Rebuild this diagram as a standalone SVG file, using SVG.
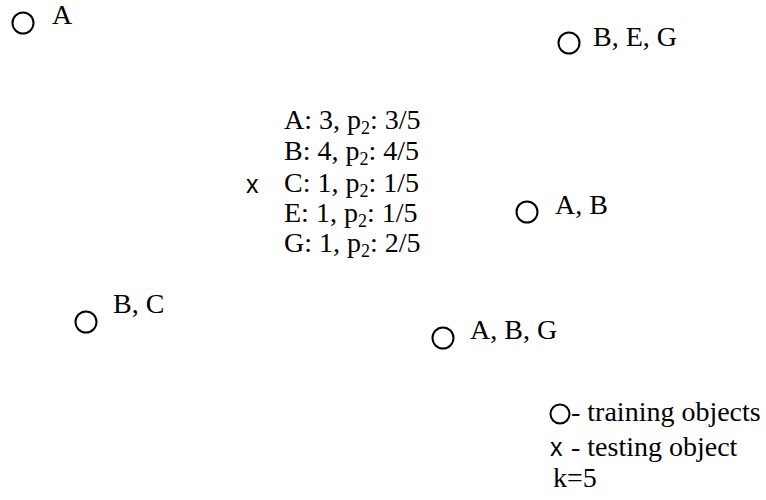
<svg xmlns="http://www.w3.org/2000/svg" width="766" height="500" viewBox="0 0 766 500">
<style>
.c{fill:none;stroke:#000;stroke-width:2}
.t{font-family:"Liberation Serif",serif;font-size:28px;fill:#000}
.x{font-family:"Liberation Sans",sans-serif;font-size:25px;fill:#000}
.s{font-size:18px}
</style>
<rect width="766" height="500" fill="#fff"/>
<g id="nA"><circle class="c" cx="23" cy="23" r="10.5"/><text class="t" x="52" y="24">A</text></g>
<g id="nBEG"><circle class="c" cx="569" cy="43" r="10.5"/><text class="t" x="593" y="46">B, E, G</text></g>
<g id="nAB"><circle class="c" cx="527" cy="212" r="10.5"/><text class="t" x="555" y="214">A, B</text></g>
<g id="nBC"><circle class="c" cx="86" cy="322" r="10.5"/><text class="t" x="113" y="313">B, C</text></g>
<g id="nABG"><circle class="c" cx="443" cy="338" r="10.5"/><text class="t" x="470" y="339">A, B, G</text></g>
<g id="test">
<text class="x" x="246" y="193">x</text>
<text class="t" x="284" y="129">A: 3, p<tspan class="s" dy="5">2</tspan><tspan dy="-5">: 3/5</tspan></text>
<text class="t" x="284" y="160">B: 4, p<tspan class="s" dy="5">2</tspan><tspan dy="-5">: 4/5</tspan></text>
<text class="t" x="284" y="192">C: 1, p<tspan class="s" dy="5">2</tspan><tspan dy="-5">: 1/5</tspan></text>
<text class="t" x="284" y="222">E: 1, p<tspan class="s" dy="5">2</tspan><tspan dy="-5">: 1/5</tspan></text>
<text class="t" x="284" y="252">G: 1, p<tspan class="s" dy="5">2</tspan><tspan dy="-5">: 2/5</tspan></text>
</g>
<g id="legend">
<circle class="c" cx="560" cy="414" r="9.5"/>
<text class="t" x="571" y="421">- training objects</text>
<text class="x" x="550" y="456">x</text>
<text class="t" x="571" y="456">- testing object</text>
<text class="t" x="553" y="487">k=5</text>
</g>
<g id="connectors"/>
</svg>
